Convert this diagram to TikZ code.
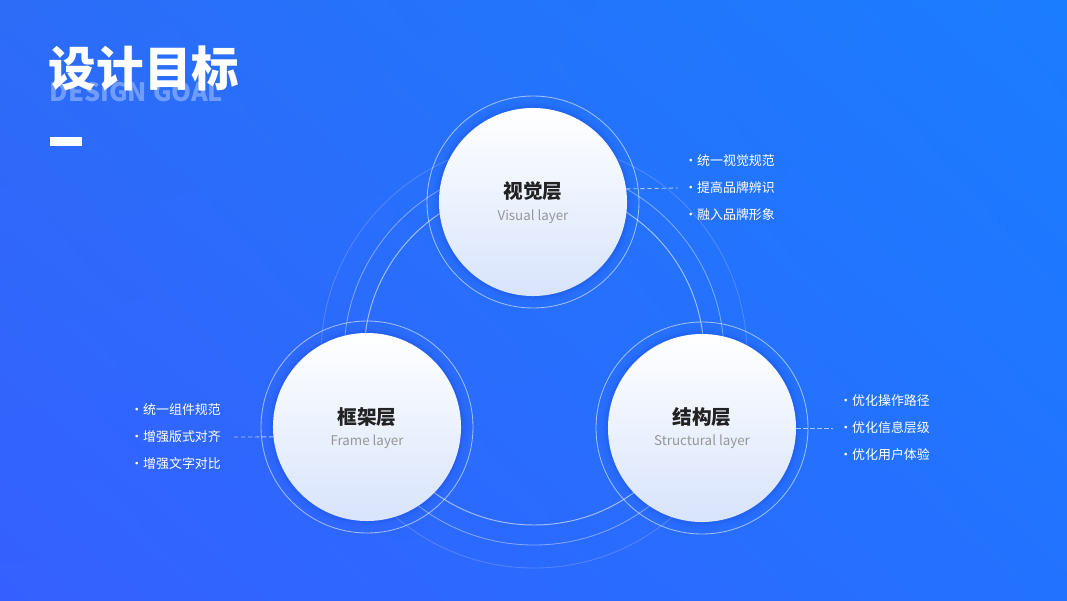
\documentclass[tikz,border=0pt]{standalone}
\usepackage{fontspec}
\setmainfont{Noto Sans CJK SC}
\usetikzlibrary{calc,shadings}
\usepackage{tkz-euclide}
\definecolor{BgTL}{RGB}{44,108,247}
\definecolor{BgTR}{RGB}{26,125,255}
\definecolor{BgBL}{RGB}{53,96,255}
\definecolor{BgBR}{RGB}{35,114,255}
\definecolor{DiskBot}{RGB}{216,228,252}
\definecolor{ShadowClr}{RGB}{20,60,200}
\definecolor{HeadClr}{RGB}{34,34,34}
\definecolor{SubClr}{RGB}{150,150,150}

\tikzset{
  layer/.style={circle,minimum size=4.7cm,inner sep=0pt,top color=white,bottom color=DiskBot},
  ring/.style={draw=white,draw opacity=.55,line width=.6pt},
  link/.style={draw=white,draw opacity=.6,dash pattern=on 3pt off 2pt,line width=.6pt},
  head/.style={text=HeadClr,font=\bfseries\fontsize{14}{16}\selectfont},
  sub/.style={text=SubClr,font=\fontsize{9.5}{11}\selectfont},
  item/.style={anchor=west,inner sep=0pt,text=white,font=\fontsize{9.2}{11}\selectfont}
}

\begin{document}
\begin{tikzpicture}[x=0.025cm,y=-0.025cm]
\useasboundingbox (0,0) rectangle (1067,600);
\shade[upper left=BgTL,upper right=BgTR,lower left=BgBL,lower right=BgBR] (0,0) rectangle (1067,600);

\tkzDefPoints{534/355/O,533/202/Cv,367/427/Cf,702/428/Cs}

% big arcs behind the circles
\draw[white,opacity=.55,line width=.7pt] (O) circle[radius=170];
\draw[white,opacity=.4,line width=.6pt] (O) circle[radius=190];
\draw[white,opacity=.18,line width=.6pt] (O) circle[radius=213];

\foreach \c in {Cv,Cf,Cs}{
  \foreach \r/\o in {101/.04,98/.07,96/.1}
    \fill[ShadowClr,opacity=\o] (\c) circle[radius=\r];
  \draw[ring] (\c) circle[radius=106];
}

\node[layer] (V) at (Cv) {};
\node[layer] (F) at (Cf) {};
\node[layer] (S) at (Cs) {};

\node[head] (Vh) at ($(Cv)+(0,-11)$) {视觉层};
\node[sub] (Vs) at ($(Cv)+(0,15)$) {Visual layer};
\node[head] (Fh) at ($(Cf)+(0,-10)$) {框架层};
\node[sub] (Fs) at ($(Cf)+(0,15)$) {Frame layer};
\node[head] (Sh) at ($(Cs)+(0,-11)$) {结构层};
\node[sub] (Ss) at ($(Cs)+(0,14)$) {Structural layer};

% lists
\foreach \t [count=\i] in {统一视觉规范,提高品牌辨识,融入品牌形象}
  \node[item] (v\i) at (684,134+27*\i) {·\t};
\foreach \t [count=\i] in {统一组件规范,增强版式对齐,增强文字对比}
  \node[item] (f\i) at (130,383+27*\i) {·\t};
\foreach \t [count=\i] in {优化操作路径,优化信息层级,优化用户体验}
  \node[item] (s\i) at (839,374+27*\i) {·\t};

\coordinate (vd) at (678,188);
\coordinate (fd) at (234,437);
\coordinate (sd) at (833,428);
\draw[link] (V.8.6) -- (vd);
\draw[link] (fd) -- (F.186);
\draw[link] (S.east) -- (sd);

% title
\node[anchor=west,text=white,opacity=.33,font=\bfseries\fontsize{18}{18}\selectfont] (en) at (45,92) {DESIGN GOAL};
\node[anchor=west,text=white,font=\bfseries\fontsize{33.8}{34}\selectfont] (title) at (44,69) {设计目标};
\fill[white] (50,137) rectangle (82,146);

\end{tikzpicture}
\end{document}
